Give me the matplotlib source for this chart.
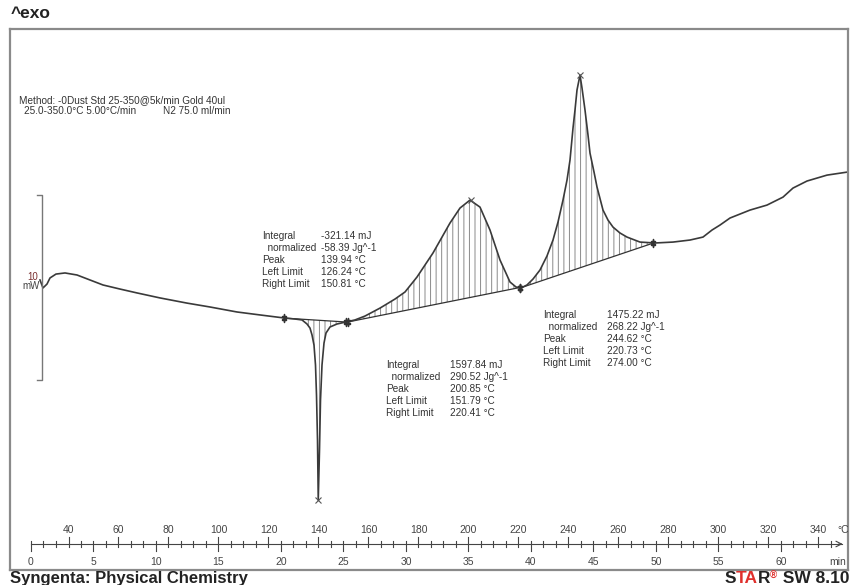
import numpy as np
import matplotlib.pyplot as plt

plt.rcParams['font.family'] = ['Liberation Sans', 'DejaVu Sans']
plt.rcParams['hatch.linewidth'] = 0.7

# DSC curve: temperature (°C) vs heat flow (mW, exo up)
temp = [28.6, 29.8, 31.4, 32.6, 35.0, 38.6, 43.4, 48.6, 53.8, 60.6, 67.4, 76.6,
        87.4, 96.6, 107.4, 116.6, 126.6, 130.6, 133.4, 135.4, 136.6, 137.4, 138.2,
        138.8, 139.2, 139.6, 139.9, 140.4, 140.8, 141.4, 142.2, 143.0, 144.6, 147.4,
        151.0, 154.6, 158.6, 164.6, 170.6, 174.6, 179.4, 185.8, 192.6, 196.6, 200.6,
        204.6, 208.6, 212.6, 216.6, 219.0, 221.0, 223.4, 225.8, 228.6, 231.4, 233.8,
        235.8, 237.8, 239.4, 240.6, 241.8, 242.6, 243.4, 244.6, 245.4, 246.6, 247.8,
        248.6, 250.2, 251.4, 253.8, 255.8, 257.8, 260.6, 263.4, 268.6, 274.6, 281.8,
        288.6, 293.8, 297.4, 300.6, 304.6, 312.6, 319.4, 325.8, 329.8, 335.4, 343.4,
        351.8]
heat_flow = [0.11, -0.32, -0.11, 0.22, 0.43, 0.49, 0.38, 0.11, -0.16, -0.38, -0.59,
             -0.86, -1.14, -1.35, -1.62, -1.78, -1.95, -2.00, -2.05, -2.27, -2.49,
             -2.86, -3.41, -4.49, -6.11, -8.54, -11.78, -9.08, -6.38, -4.49, -3.30,
             -2.76, -2.43, -2.27, -2.16, -2.05, -1.84, -1.41, -0.92, -0.54, 0.27, 1.57,
             3.19, 4.00, 4.43, 4.05, 2.81, 1.19, 0.00, -0.27, -0.32, -0.16, 0.16, 0.65,
             1.41, 2.27, 3.24, 4.43, 5.51, 6.59, 8.32, 9.30, 10.38, 11.19, 10.49, 9.30,
             7.95, 6.97, 5.95, 5.14, 3.89, 3.35, 2.97, 2.65, 2.43, 2.16, 2.11, 2.16,
             2.27, 2.43, 2.81, 3.08, 3.46, 3.89, 4.16, 4.59, 5.08, 5.46, 5.78, 5.95]

# peak evaluation results
peak_temp = [139.94, 200.85, 244.62]
peak_hf = [-11.78, 4.43, 11.19]
left_limit = [126.24, 151.79, 220.73]
right_limit = [150.81, 220.41, 274.00]
left_hf = [-1.95, -2.16, -0.32]
right_hf = [-2.16, -0.30, 2.11]
integral = [-321.14, 1597.84, 1475.22]
normalized = [-58.39, 290.52, 268.22]

temp_ticks = list(range(40, 341, 20))
minute_ticks = list(range(0, 61, 5))
start_temp = 25.0
rate = 5.0        # °C/min
scale_mw = 10

W, H = 850, 585
fig = plt.figure(figsize=(W / 100, H / 100), dpi=100)
ax = fig.add_axes([10 / W, 15 / H, 838 / W, 541 / H])
ax.set_xlim(16.6, 351.8)
ax.set_ylim(-15.57, 13.68)
ax.set_xticks([])
ax.set_yticks([])
for s in ax.spines.values():
    s.set_color('#8a8a8a')
    s.set_linewidth(1.6)

curve_col = '#3a3a3a'
T = np.array(temp)
Y = np.array(heat_flow)

# hatched peak areas + baselines
for i in range(3):
    tl, tr = left_limit[i], right_limit[i]
    hl, hr = left_hf[i], right_hf[i]
    m = (T > tl) & (T < tr)
    xs = np.concatenate([[tl], T[m], [tr]])
    ys = np.concatenate([[hl], Y[m], [hr]])
    base = hl + (hr - hl) * (xs - tl) / (tr - tl)
    ax.fill_between(xs, ys, base, facecolor='none', edgecolor='#8a8a8a',
                    hatch='|||', linewidth=0)
    ax.plot([tl, tr], [hl, hr], color='#333333', lw=0.9)

ax.plot(T, Y, color=curve_col, lw=1.2)

ax.plot(peak_temp, peak_hf, 'x', color='#555555', ms=5, mew=0.8)
ax.plot(left_limit + right_limit, left_hf + right_hf, ls='none',
        marker=r'$\ddagger$', ms=6, color='#333333')

# scale bar
bar_x = 29.4
ax.plot([bar_x - 2, bar_x, bar_x, bar_x - 2],
        [4.7, 4.7, 4.7 - scale_mw, 4.7 - scale_mw], color='#777777', lw=1.0)
fig.text(33 / W, 1 - 277 / H, str(scale_mw), fontsize=7, color='#7a3030',
         ha='center', va='center')
fig.text(31 / W, 1 - 286 / H, 'mW', fontsize=7, color='#444444',
         ha='center', va='center')

# time / temperature ruler
tr_ = ax.get_xaxis_transform()
px = 1 / 541
ry = 26 * px
ax.plot([start_temp, 349.5], [ry, ry], color='#444444', lw=0.8, transform=tr_)
ax.annotate('', xy=(350.8, ry), xytext=(347, ry), xycoords=tr_, textcoords=tr_,
            arrowprops=dict(arrowstyle='->', lw=0.8, color='#444444'))
for t in np.arange(start_temp, 346, rate):
    up = 7 if t % 20 == 0 else 3
    down = 7 if (t - start_temp) % 25 == 0 else 3
    ax.plot([t, t], [ry - down * px, ry + up * px], color='#444444', lw=0.8,
            transform=tr_)
rfs = 7.5
for t in temp_ticks:
    ax.text(t, 40 * px, str(t), fontsize=rfs, color='#444444', ha='center',
            va='center', transform=tr_)
ax.text(350.0, 40 * px, '°C', fontsize=rfs, color='#444444', ha='center',
        va='center', transform=tr_)
for mnt in minute_ticks:
    ax.text(start_temp + rate * mnt, 8 * px, str(mnt), fontsize=rfs,
            color='#444444', ha='center', va='center', transform=tr_)
ax.text(351.2, 8 * px, 'min', fontsize=rfs, color='#444444', ha='right',
        va='center', transform=tr_)

# method text
fs = 7.2
tc = '#333333'
fig.text(19 / W, 1 - 100 / H, 'Method: -0Dust Std 25-350@5k/min Gold 40ul',
         fontsize=fs, color=tc, va='center')
fig.text(24 / W, 1 - 111 / H, '25.0-350.0°C 5.00°C/min', fontsize=fs,
         color=tc, va='center')
fig.text(163 / W, 1 - 111 / H, 'N2 75.0 ml/min', fontsize=fs, color=tc,
         va='center')

# result boxes
blocks = [(262, 321, 236), (386, 450, 365), (543, 607, 315)]
names = ['Integral', '  normalized', 'Peak', 'Left Limit', 'Right Limit']
for i, (lx, vx, ty) in enumerate(blocks):
    vals = [f'{integral[i]:.2f} mJ', f'{normalized[i]:.2f} Jg^-1',
            f'{peak_temp[i]:.2f} °C', f'{left_limit[i]:.2f} °C',
            f'{right_limit[i]:.2f} °C']
    for r in range(5):
        y = 1 - (ty + r * 11.9) / H
        fig.text(lx / W, y, names[r], fontsize=fs, color=tc, va='center')
        fig.text(vx / W, y, vals[r], fontsize=fs, color=tc, va='center')

# header / footer
fig.text(11 / W, 1 - 14 / H, '^exo', fontsize=12.5, fontweight='bold',
         color='#222222', va='center')
fig.text(10 / W, 1 - 586 / H, 'Syngenta: Physical Chemistry', fontsize=12,
         fontweight='bold', color='#222222', va='bottom')

red = '#e0302c'
kw = dict(fontsize=12.5, fontweight='bold', va='bottom')
t5 = fig.text(849 / W, 1 - 586 / H, ' SW 8.10', color='#222222', ha='right', **kw)
t4 = ax.annotate('®', xy=(0, 1), xycoords=t5, ha='right', va='top',
                 fontsize=7, fontweight='bold', color=red)
t3 = ax.annotate('R', xy=(0, 0), xycoords=(t4, t5), ha='right', color='#222222', **kw)
t2 = ax.annotate('TA', xy=(0, 0), xycoords=t3, ha='right', color=red, **kw)
ax.annotate('S', xy=(0, 0), xycoords=t2, ha='right', color='#222222', **kw)

fig.savefig('out.png', dpi=100)
